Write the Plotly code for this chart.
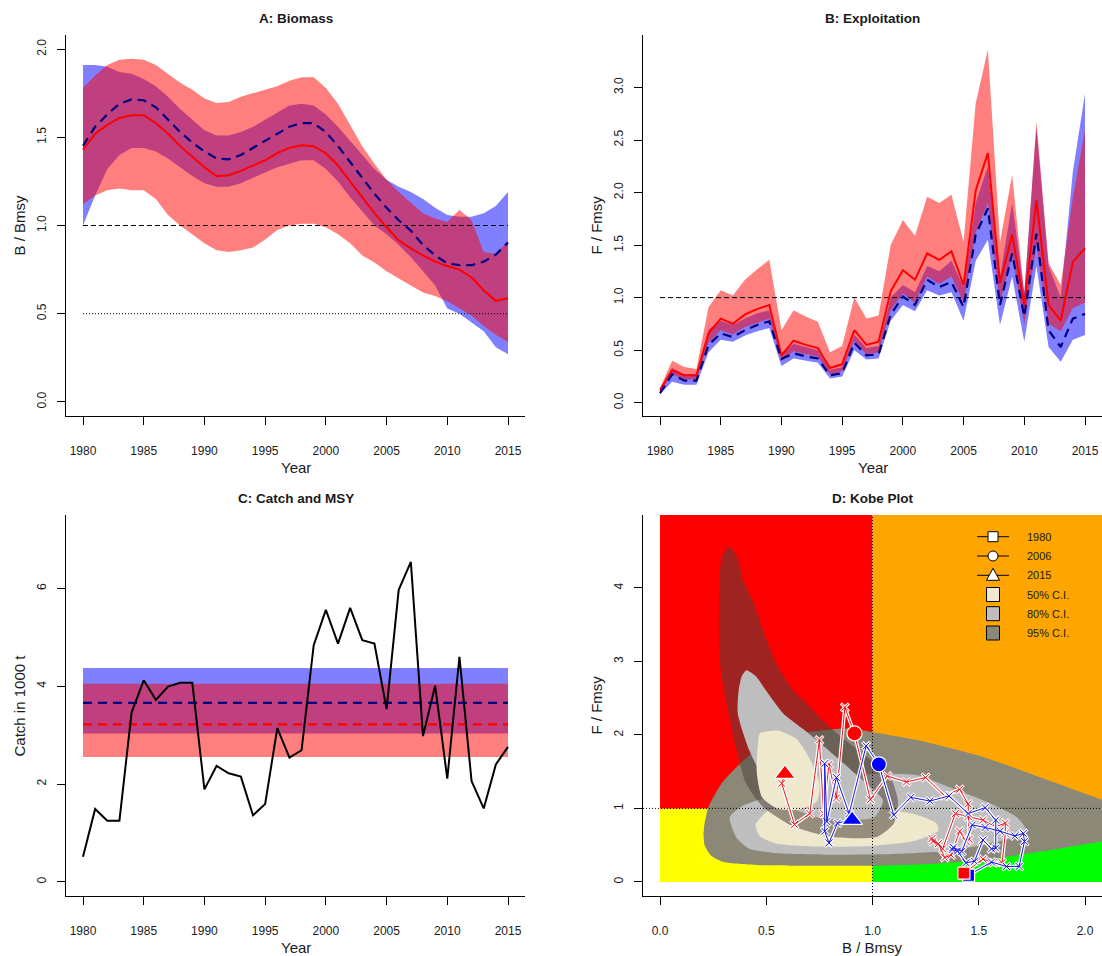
import plotly.graph_objects as go

W, H = 1102, 956
FONT = "Liberation Sans, Arial, sans-serif"

# ---------------- data ----------------
years = list(range(1980, 2016))

# Panel A: B/Bmsy (run 1 = red, run 2 = blue)
B1_med = [1.43, 1.52, 1.57, 1.61, 1.625, 1.625, 1.58, 1.52, 1.45, 1.39,
          1.33, 1.28, 1.285, 1.31, 1.34, 1.37, 1.41, 1.44, 1.455, 1.45,
          1.41, 1.34, 1.25, 1.16, 1.07, 0.99, 0.915, 0.87, 0.83, 0.795,
          0.77, 0.75, 0.705, 0.633, 0.573, 0.588]
B1_lo = [1.12, 1.17, 1.20, 1.21, 1.20, 1.20, 1.15, 1.06, 1.00, 0.95,
         0.90, 0.86, 0.85, 0.86, 0.875, 0.92, 0.975, 1.00, 1.01, 1.01,
         0.99, 0.95, 0.90, 0.83, 0.79, 0.74, 0.70, 0.66, 0.62, 0.60,
         0.57, 0.53, 0.49, 0.43, 0.38, 0.34]
B1_hi = [1.78, 1.85, 1.91, 1.94, 1.945, 1.94, 1.91, 1.86, 1.81, 1.77,
         1.72, 1.695, 1.70, 1.73, 1.75, 1.77, 1.79, 1.82, 1.84, 1.84,
         1.78, 1.69, 1.57, 1.45, 1.35, 1.26, 1.19, 1.13, 1.07, 1.04,
         1.02, 1.09, 1.03, 0.85, 0.84, 0.91]
B2_med = [1.452, 1.56, 1.63, 1.69, 1.715, 1.71, 1.67, 1.60, 1.53, 1.47,
          1.42, 1.38, 1.375, 1.40, 1.44, 1.48, 1.52, 1.56, 1.58, 1.58,
          1.53, 1.45, 1.36, 1.27, 1.18, 1.10, 1.03, 0.97, 0.89, 0.83,
          0.785, 0.775, 0.775, 0.795, 0.835, 0.904]
B2_lo = [1.00, 1.17, 1.32, 1.40, 1.44, 1.44, 1.42, 1.38, 1.33, 1.28,
         1.24, 1.22, 1.22, 1.24, 1.27, 1.30, 1.33, 1.35, 1.37, 1.37,
         1.32, 1.25, 1.16, 1.08, 1.00, 0.95, 0.89, 0.82, 0.74, 0.66,
         0.53, 0.50, 0.45, 0.40, 0.31, 0.27]
B2_hi = [1.91, 1.91, 1.90, 1.87, 1.86, 1.83, 1.79, 1.73, 1.66, 1.60,
         1.54, 1.51, 1.51, 1.53, 1.56, 1.60, 1.64, 1.68, 1.69, 1.68,
         1.63, 1.56, 1.48, 1.40, 1.32, 1.26, 1.22, 1.19, 1.15, 1.10,
         1.06, 1.05, 1.05, 1.07, 1.11, 1.19]

# Panel B: F/Fmsy
F1_med = [0.12, 0.31, 0.26, 0.26, 0.66, 0.80, 0.75, 0.84, 0.89, 0.93,
          0.45, 0.59, 0.55, 0.52, 0.33, 0.365, 0.69, 0.55, 0.58, 1.06,
          1.26, 1.17, 1.42, 1.36, 1.44, 1.12, 2.02, 2.375, 1.14, 1.60,
          0.93, 1.93, 0.93, 0.78, 1.34, 1.47]
F1_lo = [0.10, 0.27, 0.22, 0.22, 0.57, 0.69, 0.65, 0.72, 0.76, 0.80,
         0.40, 0.49, 0.46, 0.44, 0.27, 0.30, 0.59, 0.46, 0.48, 0.88,
         1.04, 0.95, 1.20, 1.13, 1.20, 0.95, 1.62, 1.90, 0.95, 1.40,
         0.75, 1.50, 0.75, 0.68, 0.90, 0.95]
F1_hi = [0.14, 0.40, 0.34, 0.32, 0.91, 1.07, 1.02, 1.17, 1.27, 1.36,
         0.69, 0.88, 0.82, 0.77, 0.48, 0.54, 1.00, 0.80, 0.83, 1.50,
         1.74, 1.59, 1.96, 1.90, 1.98, 1.53, 2.85, 3.36, 1.53, 2.17,
         1.03, 2.68, 1.33, 1.12, 1.95, 2.60]
F2_med = [0.09, 0.27, 0.21, 0.21, 0.55, 0.66, 0.625, 0.69, 0.74, 0.775,
          0.415, 0.47, 0.44, 0.42, 0.26, 0.28, 0.57, 0.45, 0.46, 0.84,
          1.01, 0.93, 1.17, 1.10, 1.15, 0.91, 1.60, 1.85, 0.93, 1.42,
          0.82, 1.61, 0.69, 0.53, 0.80, 0.845]
F2_lo = [0.08, 0.20, 0.17, 0.17, 0.48, 0.60, 0.58, 0.64, 0.68, 0.71,
         0.35, 0.42, 0.40, 0.38, 0.23, 0.25, 0.50, 0.41, 0.42, 0.78,
         0.93, 0.87, 1.07, 1.02, 1.05, 0.78, 1.35, 1.55, 0.74, 1.20,
         0.58, 1.30, 0.53, 0.39, 0.60, 0.645]
F2_hi = [0.12, 0.33, 0.27, 0.27, 0.70, 0.78, 0.74, 0.80, 0.85, 0.88,
         0.46, 0.56, 0.53, 0.50, 0.31, 0.34, 0.65, 0.52, 0.54, 1.00,
         1.12, 1.05, 1.30, 1.25, 1.35, 1.10, 1.90, 2.25, 1.20, 1.90,
         1.05, 2.62, 1.30, 1.00, 2.20, 2.94]

# Panel C: catch (1000 t) and MSY
catch = [0.51, 1.49, 1.25, 1.25, 3.46, 4.12, 3.72, 3.99, 4.07, 4.07,
         1.89, 2.37, 2.22, 2.15, 1.36, 1.59, 3.14, 2.54, 2.69, 4.84,
         5.56, 4.87, 5.60, 4.94, 4.87, 3.53, 5.97, 6.54, 2.98, 4.01,
         2.11, 4.60, 2.06, 1.50, 2.40, 2.76]
msy1 = [3.22, 2.55, 4.05]   # median, low, high (run 1, red)
msy2 = [3.66, 3.03, 4.37]   # median, low, high (run 2, blue)

# Panel D: Kobe plot – final-year confidence regions (B/Bmsy, F/Fmsy)
hb95_B = [0.205, 0.21, 0.228, 0.29, 0.36, 0.47, 0.66, 0.895, 0.995, 1.21, 1.52, 1.83, 2.08,
          2.25, 2.25, 2.08, 1.83, 1.60, 1.45, 1.25, 1.00, 0.70, 0.45, 0.30, 0.24, 0.21]
hb95_F = [0.65, 0.80, 1.02, 1.34, 1.56, 1.84, 2.02, 2.09, 2.04, 1.93, 1.70, 1.38, 1.12,
          0.98, 0.62, 0.55, 0.43, 0.33, 0.28, 0.24, 0.22, 0.22, 0.23, 0.27, 0.36, 0.50]
hb80_B = [0.328, 0.38, 0.50, 0.70, 0.90, 1.05, 1.21, 1.36, 1.52, 1.68, 1.72, 1.68, 1.55,
          1.35, 1.10, 0.80, 0.55, 0.42, 0.36]
hb80_F = [0.88, 1.02, 1.15, 1.30, 1.45, 1.47, 1.45, 1.29, 1.11, 0.88, 0.72, 0.62, 0.52,
          0.42, 0.38, 0.37, 0.39, 0.45, 0.60]
hb50_B = [0.45, 0.50, 0.60, 0.75, 0.90, 1.05, 1.20, 1.30, 1.31, 1.20, 1.00, 0.75, 0.55, 0.47]
hb50_F = [0.78, 0.95, 1.08, 1.12, 1.08, 0.99, 0.92, 0.80, 0.70, 0.56, 0.49, 0.48, 0.52, 0.62]
eb95_B = [0.32, 0.36, 0.39, 0.44, 0.50, 0.56, 0.63, 0.70, 0.80, 0.95, 1.08, 1.12, 1.10,
          1.02, 0.815, 0.63, 0.485, 0.405, 0.36, 0.31, 0.285, 0.278, 0.28, 0.29]
eb95_F = [4.56, 4.45, 4.11, 3.80, 3.30, 2.90, 2.60, 2.40, 2.10, 1.75, 1.45, 1.10, 0.79,
          0.61, 0.61, 0.75, 1.02, 1.34, 1.79, 2.47, 2.90, 3.20, 4.11, 4.40]
eb80_B = [0.407, 0.45, 0.50, 0.58, 0.70, 0.83, 0.97, 1.05, 1.01, 0.89, 0.74, 0.61, 0.50,
          0.42, 0.366, 0.37, 0.385]
eb80_F = [2.88, 2.80, 2.60, 2.29, 2.02, 1.70, 1.34, 1.11, 0.88, 0.84, 0.88, 1.02, 1.34,
          1.79, 2.29, 2.60, 2.80]
eb50_B = [0.47, 0.55, 0.64, 0.70, 0.75, 0.74, 0.65, 0.55, 0.48, 0.455, 0.46]
eb50_F = [2.02, 2.06, 1.95, 1.70, 1.35, 1.10, 0.98, 1.00, 1.15, 1.50, 1.85]

kobe_years = [1980, 2006, 2015]
legend_labels = ["1980", "2006", "2015", "50% C.I.", "80% C.I.", "95% C.I."]

# ---------------- styling ----------------
RED_BAND = "rgba(255,0,0,0.5)"
BLUE_BAND = "rgba(0,0,255,0.5)"
C50, C80, C95 = "#EEE8CD", "#BEBEBE", "#8B8878"
C95_T = "rgba(80,65,60,0.55)"

# panel boxes in pixels (left, right, top, bottom)
boxA = (66, 525, 35, 416)
boxB = (643, 1102, 35, 416)
boxC = (66, 525, 515, 896)
boxD = (643, 1102, 515, 896)

yr_range = [1978.6, 2016.4]
A_yr = [-0.08, 2.08]
B_yr = [-0.127, 3.50]
C_yr = [-0.29, 7.5]
D_xr = [-0.08, 2.08]
D_yr = [-0.192, 4.992]

fig = go.Figure()


def add(tr):
    tr.update(showlegend=False, hoverinfo="skip")
    fig.add_trace(tr)


def band(x, lo, hi, color, xa, ya):
    add(go.Scatter(x=list(x) + list(x)[::-1], y=list(hi) + list(lo)[::-1],
                   fill="toself", fillcolor=color, mode="lines",
                   line=dict(width=0), xaxis=xa, yaxis=ya))


def poly(bx, fy, color):
    add(go.Scatter(x=list(bx) + [bx[0]], y=list(fy) + [fy[0]], fill="toself",
                   fillcolor=color, mode="lines",
                   line=dict(width=0, shape="spline", smoothing=0.6),
                   xaxis="x4", yaxis="y4"))


# ---------- Panel A ----------
band(years, B2_lo, B2_hi, BLUE_BAND, "x", "y")
band(years, B1_lo, B1_hi, RED_BAND, "x", "y")
add(go.Scatter(x=[years[0], years[-1]], y=[1, 1], mode="lines",
               line=dict(color="black", width=1, dash="5px,3px"), xaxis="x", yaxis="y"))
add(go.Scatter(x=[years[0], years[-1]], y=[0.5, 0.5], mode="lines",
               line=dict(color="black", width=1, dash="1px,2px"), xaxis="x", yaxis="y"))
add(go.Scatter(x=years, y=B1_med, mode="lines", line=dict(color="red", width=2),
               xaxis="x", yaxis="y"))
add(go.Scatter(x=years, y=B2_med, mode="lines",
               line=dict(color="navy", width=2.2, dash="9px,6px"), xaxis="x", yaxis="y"))

# ---------- Panel B ----------
band(years, F2_lo, F2_hi, BLUE_BAND, "x2", "y2")
band(years, F1_lo, F1_hi, RED_BAND, "x2", "y2")
add(go.Scatter(x=[years[0], years[-1]], y=[1, 1], mode="lines",
               line=dict(color="black", width=1, dash="5px,3px"), xaxis="x2", yaxis="y2"))
add(go.Scatter(x=years, y=F1_med, mode="lines", line=dict(color="red", width=2),
               xaxis="x2", yaxis="y2"))
add(go.Scatter(x=years, y=F2_med, mode="lines",
               line=dict(color="navy", width=2.2, dash="9px,6px"), xaxis="x2", yaxis="y2"))

# ---------- Panel C ----------
xs = [years[0], years[-1]]
band(xs, [msy2[1]] * 2, [msy2[2]] * 2, BLUE_BAND, "x3", "y3")
band(xs, [msy1[1]] * 2, [msy1[2]] * 2, RED_BAND, "x3", "y3")
add(go.Scatter(x=xs, y=[msy2[0]] * 2, mode="lines",
               line=dict(color="navy", width=2.2, dash="9px,6px"), xaxis="x3", yaxis="y3"))
add(go.Scatter(x=xs, y=[msy1[0]] * 2, mode="lines",
               line=dict(color="red", width=2.2, dash="9px,6px"), xaxis="x3", yaxis="y3"))
add(go.Scatter(x=years, y=catch, mode="lines", line=dict(color="black", width=2),
               xaxis="x3", yaxis="y3"))

# ---------- Panel D ----------
poly(hb95_B, hb95_F, C95)
poly(hb80_B, hb80_F, C80)
poly(hb50_B, hb50_F, C50)
poly(eb95_B, eb95_F, C95_T)
poly(eb80_B, eb80_F, C80)
poly(eb50_B, eb50_F, C50)

add(go.Scatter(x=[1, 1], y=D_yr, mode="lines",
               line=dict(color="black", width=1, dash="1px,2px"), xaxis="x4", yaxis="y4"))
add(go.Scatter(x=D_xr, y=[1, 1], mode="lines",
               line=dict(color="black", width=1, dash="1px,2px"), xaxis="x4", yaxis="y4"))

for bx, fy, col in [(B1_med, F1_med, "#E8141E"), (B2_med, F2_med, "#1414E0")]:
    add(go.Scatter(x=bx, y=fy, mode="lines+markers",
                   line=dict(color="white", width=3.5),
                   marker=dict(symbol="x-thin", size=8, color="white",
                               line=dict(color="white", width=3)),
                   xaxis="x4", yaxis="y4"))
    add(go.Scatter(x=bx, y=fy, mode="lines+markers",
                   line=dict(color=col, width=1),
                   marker=dict(symbol="x-thin", size=7, color=col,
                               line=dict(color=col, width=1)),
                   xaxis="x4", yaxis="y4"))

idx = [years.index(y) for y in kobe_years]
for bx, fy, col in [(B2_med, F2_med, "blue"), (B1_med, F1_med, "red")]:
    for i, sym, sz in zip(idx, ["square", "circle", "triangle-up"], [12, 15, 18]):
        add(go.Scatter(x=[bx[i]], y=[fy[i]], mode="markers",
                       marker=dict(symbol=sym, size=sz, color=col,
                                   line=dict(color="white", width=1.2)),
                       xaxis="x4", yaxis="y4"))

# ---------- axes ----------
def xaxis_cfg(box, rng, tv, tt, anchor):
    return dict(domain=[box[0] / W, box[1] / W], range=rng, anchor=anchor,
                tickvals=tv, ticktext=tt, showline=True, linecolor="black", linewidth=1,
                ticks="outside", ticklen=8, tickwidth=1, tickcolor="black",
                showgrid=False, zeroline=False, automargin=False, fixedrange=True,
                ticklabelstandoff=16,
                tickfont=dict(family=FONT, size=12, color="#1a1a1a"))


def yaxis_cfg(box, rng, tv, tt, anchor):
    return dict(domain=[1 - box[3] / H, 1 - box[2] / H], range=rng, anchor=anchor,
                tickvals=tv, ticktext=tt, showline=True, linecolor="black", linewidth=1,
                ticks="outside", ticklen=8, tickwidth=1, tickcolor="black",
                showgrid=False, zeroline=False, automargin=False, fixedrange=True,
                tickangle=-90, ticklabelstandoff=6,
                tickfont=dict(family=FONT, size=12, color="#1a1a1a"))


ytick = list(range(1980, 2016, 5))
ytxt = [str(v) for v in ytick]

fig.update_layout(
    width=W, height=H, autosize=False,
    margin=dict(l=0, r=0, t=0, b=0),
    paper_bgcolor="white", plot_bgcolor="white",
    font=dict(family=FONT, color="#1a1a1a"),
    xaxis=xaxis_cfg(boxA, yr_range, ytick, ytxt, "y"),
    yaxis=yaxis_cfg(boxA, A_yr, [0, 0.5, 1, 1.5, 2], ["0.0", "0.5", "1.0", "1.5", "2.0"], "x"),
    xaxis2=xaxis_cfg(boxB, yr_range, ytick, ytxt, "y2"),
    yaxis2=yaxis_cfg(boxB, B_yr, [0, 0.5, 1, 1.5, 2, 2.5, 3],
                     ["0.0", "0.5", "1.0", "1.5", "2.0", "2.5", "3.0"], "x2"),
    xaxis3=xaxis_cfg(boxC, yr_range, ytick, ytxt, "y3"),
    yaxis3=yaxis_cfg(boxC, C_yr, [0, 2, 4, 6], ["0", "2", "4", "6"], "x3"),
    xaxis4=xaxis_cfg(boxD, D_xr, [0, 0.5, 1, 1.5, 2], ["0.0", "0.5", "1.0", "1.5", "2.0"], "y4"),
    yaxis4=yaxis_cfg(boxD, D_yr, [0, 1, 2, 3, 4], ["0", "1", "2", "3", "4"], "x4"),
)

# Kobe background quadrants
for x0, x1, y0, y1, col in [(0, 1, 0, 1, "#FFFF00"), (1, D_xr[1], 0, 1, "#00FF00"),
                            (0, 1, 1, D_yr[1], "#FF0000"), (1, D_xr[1], 1, D_yr[1], "#FFA500")]:
    fig.add_shape(type="rect", xref="x4", yref="y4", x0=x0, x1=x1, y0=y0, y1=y1,
                  fillcolor=col, line=dict(width=0), layer="below")

# ---------- text ----------
def ann(text, px, py, size, angle=0, bold=False, xanchor="center"):
    fig.add_annotation(text=f"<b>{text}</b>" if bold else text, x=px / W, y=1 - py / H,
                       xref="paper", yref="paper", showarrow=False, textangle=angle,
                       xanchor=xanchor, yanchor="middle",
                       font=dict(family=FONT, size=size, color="#1a1a1a"))


for box, title, ylab in [(boxA, "A: Biomass", "B / Bmsy"), (boxB, "B: Exploitation", "F / Fmsy"),
                         (boxC, "C: Catch and MSY", "Catch in 1000 t"), (boxD, "D: Kobe Plot", "F / Fmsy")]:
    cx = (box[0] + box[1]) / 2
    cy = (box[2] + box[3]) / 2
    ann(title, cx, box[2] - 17, 13.5, bold=True)
    ann(ylab, box[0] - 47, cy, 15, angle=-90)
for box, xlab in [(boxA, "Year"), (boxB, "Year"), (boxC, "Year"), (boxD, "B / Bmsy")]:
    ann(xlab, (box[0] + box[1]) / 2, box[3] + 51, 15)

# ---------- Kobe legend (drawn manually) ----------
row_y = [536.7, 556, 575.3, 594.5, 613.7, 633]
sym_x, line_x0, line_x1, text_x = 993, 977, 1009, 1025
for k, lab in enumerate(legend_labels):
    py = row_y[k]
    yp = 1 - py / H
    if k < 3:
        fig.add_shape(type="line", xref="paper", yref="paper", x0=line_x0 / W, x1=line_x1 / W,
                      y0=yp, y1=yp, line=dict(color="black", width=1))
        if k == 0:
            fig.add_shape(type="rect", xref="paper", yref="paper",
                          x0=(sym_x - 5) / W, x1=(sym_x + 5) / W, y0=1 - (py + 5) / H, y1=1 - (py - 5) / H,
                          fillcolor="white", line=dict(color="black", width=1))
        elif k == 1:
            fig.add_shape(type="circle", xref="paper", yref="paper",
                          x0=(sym_x - 5) / W, x1=(sym_x + 5) / W, y0=1 - (py + 5) / H, y1=1 - (py - 5) / H,
                          fillcolor="white", line=dict(color="black", width=1))
        else:
            path = (f"M {(sym_x - 6.5) / W} {1 - (py + 5) / H} L {(sym_x + 6.5) / W} {1 - (py + 5) / H} "
                    f"L {sym_x / W} {1 - (py - 7) / H} Z")
            fig.add_shape(type="path", xref="paper", yref="paper", path=path,
                          fillcolor="white", line=dict(color="black", width=1))
    else:
        fillc = [C50, C80, C95][k - 3]
        fig.add_shape(type="rect", xref="paper", yref="paper",
                      x0=(sym_x - 6.5) / W, x1=(sym_x + 6.5) / W, y0=1 - (py + 7) / H, y1=1 - (py - 7) / H,
                      fillcolor=fillc, line=dict(color="black", width=1))
    ann(lab, text_x, py, 11, xanchor="left")

fig.write_html("out.html", config={"displayModeBar": False},
               post_script="document.body.style.margin='0';")
